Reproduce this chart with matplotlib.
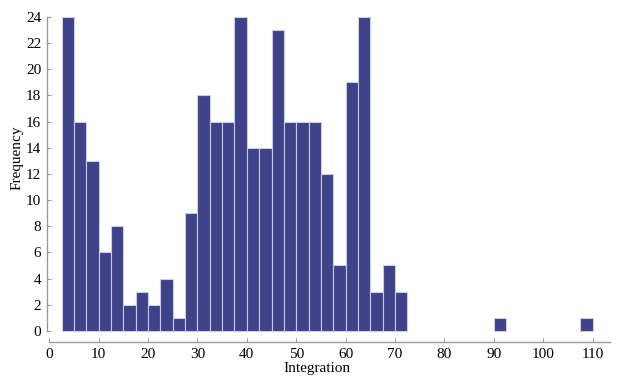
import matplotlib
matplotlib.use("Agg")
import matplotlib.pyplot as plt
import numpy as np

# histogram of integration values, bins of width 2.5
bin_width = 2.5
bin_start = 2.5
counts = [24, 16, 13, 6, 8, 2, 3, 2, 4, 1, 9, 18, 16, 16, 24, 14, 14, 23,
          16, 16, 16, 12, 5, 19, 24, 3, 5, 3,
          0, 0, 0, 0, 0, 0, 0, 1,
          0, 0, 0, 0, 0, 0, 1]
xticks = [0, 10, 20, 30, 40, 50, 60, 70, 80, 90, 100, 110]
yticks = [0, 2, 4, 6, 8, 10, 12, 14, 16, 18, 20, 22, 24]

plt.rcParams["font.family"] = ["Liberation Serif", "DejaVu Serif"]

fig = plt.figure(figsize=(6.18, 3.88), dpi=100)
ax = fig.add_axes([46.7 / 618, 46 / 388, (610 - 46.7) / 618, (371 - 46) / 388])

counts = np.array(counts)
edges = bin_start + bin_width * np.arange(len(counts))
nonzero = counts > 0  # empty bins draw nothing
ax.bar(edges[nonzero], counts[nonzero], width=bin_width, align="edge",
       color="#3d4289", edgecolor="#c9cbe8", linewidth=0.8)

ax.set_xlim(-0.5, 113.5)
ax.set_ylim(-0.85, 24.0)
ax.set_xticks(xticks)
ax.set_yticks(yticks)

for side in ("top", "right"):
    ax.spines[side].set_visible(False)
for side in ("left", "bottom"):
    ax.spines[side].set_color("#999999")
    ax.spines[side].set_linewidth(1.0)
ax.spines["left"].set_bounds(0, 24)
ax.spines["bottom"].set_bounds(0, 113.5)

ax.tick_params(direction="in", length=3, color="#999999", labelsize=11,
               labelcolor="black", pad=4)

ax.set_xlabel("Integration", fontsize=11)
ax.set_ylabel("Frequency", fontsize=11)
ax.xaxis.set_label_coords(0.48, -0.0615)
ax.yaxis.set_label_coords(-0.042, 0.566)

fig.savefig("out.png", dpi=100)
